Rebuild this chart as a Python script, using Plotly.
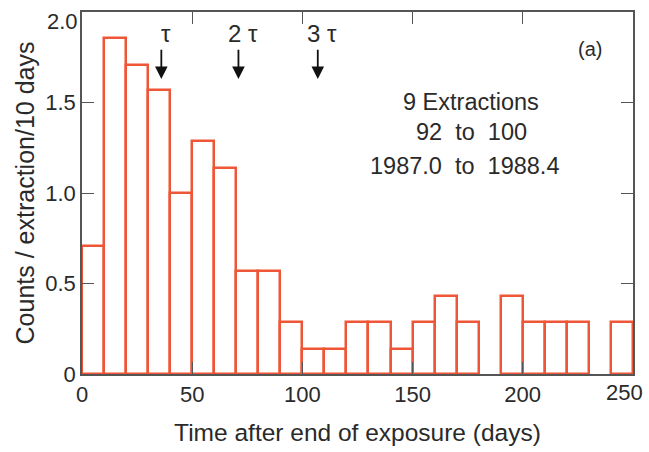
import plotly.graph_objects as go

# Histogram bins: left edges (days) and counts per extraction per 10 days
bin_left = [0, 10, 20, 30, 40, 50, 60, 70, 80, 90, 100, 110, 120, 130, 140,
            150, 160, 170, 180, 190, 200, 210, 220, 230, 240]
counts = [0.71, 1.86, 1.71, 1.57, 1.00, 1.29, 1.14, 0.57, 0.57, 0.29, 0.14,
          0.14, 0.29, 0.29, 0.14, 0.29, 0.43, 0.29, 0.0, 0.43, 0.29, 0.29,
          0.29, 0.0, 0.29]
bin_width = 10

# Mean-life markers
tau_days = [36, 71, 107]
tau_labels = ["τ", "2 τ", "3 τ"]

y_ticks = [0, 0.5, 1.0, 1.5, 2.0]
y_ticktext = ["0", "0.5", "1.0", "1.5", "2.0"]
x_ticks = [0, 50, 100, 150, 200, 250]
x_ticktext = ["0", "50", "100", "150", "200", "250"]

info_lines = ["9 Extractions", "92  to  100", "1987.0  to  1988.4"]

BAR_RED = "#EF5637"
TEXT = "#2a2a2a"
AXIS = "#555555"
FONT = "Liberation Sans, Arial, sans-serif"

W, H = 649, 452
L, R, T, B = 82, 16, 10, 78


def paper_xy(px, py):
    """Pixel position on the page -> paper coordinates of the plot area."""
    return (px - L) / (W - L - R), 1 - (py - T) / (H - T - B)


centers = [b + bin_width / 2 for b in bin_left]
heights = [c if c > 0 else None for c in counts]

fig = go.Figure()
fig.add_trace(go.Bar(
    x=centers, y=heights, width=bin_width,
    marker=dict(color="white", line=dict(color=BAR_RED, width=2.5)),
    hoverinfo="x+y",
))

annotations = []
for d, lab in zip(tau_days, tau_labels):
    annotations.append(dict(
        x=d, y=1.63, ax=d, ay=1.80, xref="x", yref="y", axref="x", ayref="y",
        showarrow=True, arrowhead=2, arrowsize=1.4, arrowwidth=1.8,
        arrowcolor="#111111", text=""))
    annotations.append(dict(
        x=d + 2, y=1.88, xref="x", yref="y", text=lab, showarrow=False,
        xanchor="center", yanchor="middle",
        font=dict(size=24, color=TEXT, family=FONT)))

for px, py, line in zip([471, 471, 464], [100, 131, 165], info_lines):
    x, y = paper_xy(px, py)
    annotations.append(dict(
        x=x, y=y, xref="paper", yref="paper", text=line, showarrow=False,
        xanchor="center", yanchor="middle",
        font=dict(size=23.5, color=TEXT, family=FONT)))

x, y = paper_xy(590, 47)
annotations.append(dict(
    x=x, y=y, xref="paper", yref="paper", text="(a)", showarrow=False,
    xanchor="center", yanchor="middle",
    font=dict(size=20, color=TEXT, family=FONT)))

# End-of-axis tick labels, nudged inward so they stay on the page
annotations.append(dict(
    x=x_ticks[-1], y=0, xref="x", yref="paper", text=x_ticktext[-1],
    showarrow=False, xanchor="center", yanchor="top", xshift=-8, yshift=-4,
    font=dict(size=22, color=TEXT, family=FONT)))
annotations.append(dict(
    x=0, y=y_ticks[-1], xref="paper", yref="y", text=y_ticktext[-1],
    showarrow=False, xanchor="right", yanchor="middle", xshift=-2, yshift=-9,
    font=dict(size=22, color=TEXT, family=FONT)))

fig.update_layout(
    width=W, height=H,
    margin=dict(l=L, r=R, t=T, b=B),
    paper_bgcolor="white", plot_bgcolor="white",
    showlegend=False,
    bargap=0,
    font=dict(family=FONT, color=TEXT),
    annotations=annotations,
    xaxis=dict(
        range=[0, 250.05], tickvals=x_ticks,
        ticktext=x_ticktext[:-1] + [""], ticks="inside", ticklen=12,
        tickcolor=AXIS, showline=True, linecolor=AXIS, linewidth=1.5,
        mirror="ticks", showgrid=False, zeroline=False,
        tickfont=dict(size=22, color=TEXT),
        title=dict(text="Time after end of exposure (days)",
                   font=dict(size=24.5, color=TEXT), standoff=18),
    ),
    yaxis=dict(
        range=[0, 2.001], tickvals=y_ticks,
        ticktext=y_ticktext[:-1] + [""],
        ticks="inside", ticklen=12, tickcolor=AXIS,
        showline=True, linecolor=AXIS, linewidth=1.5, mirror="ticks",
        showgrid=False, zeroline=False,
        tickfont=dict(size=22, color=TEXT),
        title=dict(text="Counts / extraction/10 days",
                   font=dict(size=25, color=TEXT), standoff=4),
    ),
)

fig.write_html("out.html")
